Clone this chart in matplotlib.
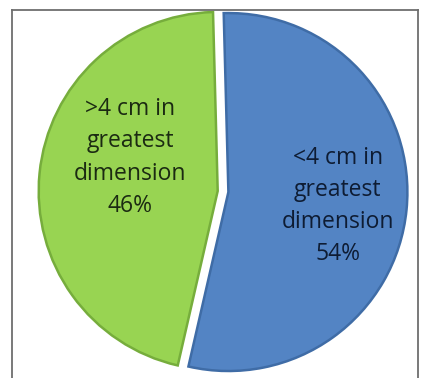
import matplotlib.pyplot as plt
from matplotlib.lines import Line2D

# data
labels = ['<4 cm in\ngreatest\ndimension', '>4 cm in\ngreatest\ndimension']
shares = [54, 46]
colors = ['#5384c4', '#98d452']
edges = ['#3f6ca6', '#76ad3c']
text_colors = ['#0e1c33', '#1b2a12']

fig = plt.figure(figsize=(4.23, 3.78), dpi=100)
ax = fig.add_axes([0, 0, 1, 1])

wedges, _ = ax.pie(shares, colors=colors, startangle=91.5, counterclock=False,
                   explode=[0.03, 0.03], radius=1.0,
                   wedgeprops=dict(linewidth=1.8))
for w, ec in zip(wedges, edges):
    w.set_edgecolor(ec)

# label positions (relative to pie centre)
pos = [(0.64, -0.08), (-0.52, 0.19)]
for lab, s, (x, y), tc in zip(labels, shares, pos, text_colors):
    ax.text(x, y, f'{lab}\n{s}%', ha='center', va='center', fontsize=16.5,
            color=tc, family='Open Sans', linespacing=1.45)

ax.set_xlim(-1.246, 1.117)
ax.set_ylim(-1.042, 1.070)
ax.set_aspect('auto')
ax.axis('off')

# frame
fc = '#6e6e6e'
fig.add_artist(Line2D([12/423, 12/423], [0, 1 - 10/378], color=fc, lw=1.3))
fig.add_artist(Line2D([12/423, 418/423], [1 - 10/378, 1 - 10/378], color=fc, lw=1.3))
fig.add_artist(Line2D([418/423, 418/423], [0, 1 - 10/378], color=fc, lw=1.3))

fig.savefig('out.png', dpi=100, facecolor='white')
